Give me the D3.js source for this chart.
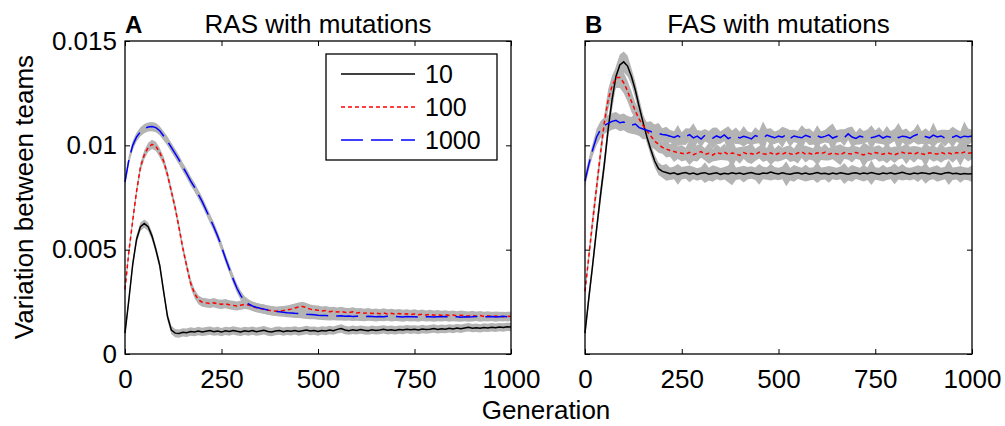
<!DOCTYPE html>
<html>
<head>
<meta charset="utf-8">
<script src="https://cdn.jsdelivr.net/npm/d3@7"></script>
<style>
  body { margin: 0; background: #fff; }
  svg { display: block; font-family: "Liberation Sans", Arial, Helvetica, sans-serif; }
</style>
</head>
<body>
<div id="chart"></div>
<script>
// Variation between teams over generations — RAS vs FAS, with mutations
// values are in units of 1e-3, spreads (grey bands) in units of 1e-4

const GENERATIONS = d3.range(0, 1001, 10);

const SERIES_LABELS = ["10", "100", "1000"];
const X_TICKS = [0, 250, 500, 750, 1000];
const Y_TICKS = [0, 5, 10, 15];
const Y_TICK_LABELS = ["0", "0.005", "0.01", "0.015"];

// ── Panel A: RAS ────────────────────────────────────────────────────────
const RAS_10 = [
  1.00, 2.60, 4.30, 5.50, 6.10, 6.25, 6.10, 5.65, 5.00, 4.25,
  3.00, 1.80, 1.15, 1.00, 0.98, 1.04, 1.02, 1.08, 1.05, 1.10,
  1.06, 1.09, 1.12, 1.07, 1.10, 1.05, 1.11, 1.08, 1.13, 1.09,
  1.06, 1.11, 1.08, 1.12, 1.07, 1.10, 1.14, 1.08, 1.05, 1.10,
  1.12, 1.07, 1.11, 1.09, 1.13, 1.08, 1.11, 1.15, 1.10, 1.12,
  1.08, 1.13, 1.10, 1.15, 1.12, 1.18, 1.22, 1.15, 1.12, 1.16,
  1.13, 1.17, 1.14, 1.12, 1.16, 1.13, 1.15, 1.18, 1.14, 1.16,
  1.13, 1.17, 1.15, 1.19, 1.16, 1.18, 1.15, 1.20, 1.17, 1.19,
  1.22, 1.18, 1.21, 1.19, 1.23, 1.20, 1.24, 1.21, 1.25, 1.28,
  1.24, 1.26, 1.23, 1.27, 1.25, 1.28, 1.26, 1.29, 1.27, 1.30,
  1.29
];
const RAS_100 = [
  3.10, 4.90, 6.40, 7.80, 8.95, 9.55, 9.90, 10.05, 9.95, 9.65,
  9.25, 8.60, 7.80, 7.00, 6.05, 5.05, 4.20, 3.40, 2.90, 2.60,
  2.48, 2.45, 2.42, 2.46, 2.40, 2.38, 2.41, 2.36, 2.33, 2.30,
  2.34, 2.38, 2.35, 2.28, 2.22, 2.18, 2.15, 2.10, 2.08, 2.05,
  2.07, 2.08, 2.11, 2.15, 2.20, 2.25, 2.28, 2.22, 2.15, 2.12,
  2.10, 2.06, 2.08, 2.03, 2.05, 2.01, 2.04, 2.00, 1.98, 2.02,
  1.97, 1.99, 1.95, 1.98, 1.94, 1.96, 1.93, 1.97, 1.92, 1.95,
  1.91, 1.94, 1.90, 1.93, 1.89, 1.92, 1.88, 1.91, 1.87, 1.90,
  1.86, 1.89, 1.85, 1.88, 1.84, 1.87, 1.83, 1.86, 1.84, 1.82,
  1.85, 1.81, 1.84, 1.80, 1.83, 1.79, 1.82, 1.80, 1.78, 1.81,
  1.80
];
const RAS_1000 = [
  8.25, 9.30, 10.00, 10.40, 10.65, 10.80, 10.88, 10.90, 10.85, 10.70,
  10.45, 10.20, 9.90, 9.60, 9.30, 8.95, 8.64, 8.30, 8.00, 7.65,
  7.30, 6.90, 6.50, 6.10, 5.65, 5.15, 4.60, 4.10, 3.60, 3.15,
  2.80, 2.55, 2.40, 2.30, 2.24, 2.19, 2.15, 2.11, 2.07, 2.04,
  2.02, 2.00, 1.98, 1.97, 1.95, 1.94, 1.92, 1.90, 1.89, 1.88,
  1.86, 1.85, 1.84, 1.83, 1.84, 1.82, 1.83, 1.81, 1.82, 1.80,
  1.81, 1.80, 1.79, 1.81, 1.80, 1.78, 1.80, 1.79, 1.81, 1.78,
  1.80, 1.79, 1.77, 1.80, 1.78, 1.79, 1.77, 1.80, 1.78, 1.79,
  1.77, 1.79, 1.78, 1.80, 1.77, 1.79, 1.78, 1.76, 1.79, 1.77,
  1.78, 1.80, 1.77, 1.79, 1.78, 1.80, 1.77, 1.79, 1.81, 1.78,
  1.80
];
const RAS_SPREAD = [2.0, 2.2, 2.2];

// ── Panel B: FAS ────────────────────────────────────────────────────────
const FAS_10 = [
  1.00, 2.70, 4.30, 6.00, 7.60, 9.10, 10.80, 12.20, 13.30, 13.85,
  14.00, 13.80, 13.30, 12.65, 11.85, 11.10, 10.40, 9.80, 9.25, 8.88,
  8.75, 8.70, 8.64, 8.68, 8.61, 8.66, 8.70, 8.63, 8.67, 8.60,
  8.66, 8.69, 8.62, 8.65, 8.68, 8.61, 8.66, 8.63, 8.69, 8.64,
  8.67, 8.62, 8.66, 8.70, 8.64, 8.61, 8.67, 8.65, 8.72, 8.66,
  8.63, 8.68, 8.64, 8.61, 8.66, 8.69, 8.63, 8.67, 8.62, 8.65,
  8.70, 8.64, 8.66, 8.61, 8.67, 8.63, 8.68, 8.65, 8.62, 8.66,
  8.69, 8.63, 8.67, 8.64, 8.70, 8.65, 8.62, 8.67, 8.64, 8.68,
  8.63, 8.66, 8.71, 8.65, 8.62, 8.67, 8.64, 8.69, 8.66, 8.63,
  8.68, 8.65, 8.62, 8.67, 8.70, 8.64, 8.66, 8.61, 8.65, 8.63,
  8.64
];
const FAS_100 = [
  3.00, 4.70, 6.40, 8.00, 9.60, 11.10, 12.20, 12.85, 13.25, 13.25,
  13.00, 12.60, 12.10, 11.65, 11.25, 10.95, 10.70, 10.45, 10.20, 10.05,
  9.90, 9.82, 9.75, 9.70, 9.65, 9.62, 9.58, 9.66, 9.55, 9.63,
  9.70, 9.57, 9.62, 9.53, 9.66, 9.60, 9.68, 9.56, 9.63, 9.59,
  9.52, 9.65, 9.58, 9.61, 9.55, 9.67, 9.60, 9.57, 9.64, 9.54,
  9.62, 9.58, 9.66, 9.60, 9.55, 9.63, 9.69, 9.58, 9.62, 9.56,
  9.64, 9.60, 9.67, 9.57, 9.63, 9.59, 9.55, 9.65, 9.61, 9.58,
  9.66, 9.60, 9.54, 9.63, 9.59, 9.66, 9.61, 9.57, 9.64, 9.60,
  9.55, 9.62, 9.67, 9.59, 9.63, 9.57, 9.65, 9.60, 9.56, 9.64,
  9.61, 9.58, 9.66, 9.60, 9.63, 9.57, 9.65, 9.61, 9.68, 9.62,
  9.64
];
const FAS_1000 = [
  8.30, 9.10, 9.80, 10.40, 10.75, 10.95, 11.05, 11.15, 11.20, 11.08,
  11.12, 11.00, 10.96, 11.02, 10.85, 10.78, 10.72, 10.66, 10.60, 10.57,
  10.52, 10.49, 10.44, 10.38, 10.47, 10.33, 10.42, 10.51, 10.36, 10.44,
  10.30, 10.48, 10.39, 10.34, 10.45, 10.37, 10.50, 10.32, 10.41, 10.46,
  10.35, 10.43, 10.38, 10.31, 10.47, 10.40, 10.34, 10.49, 10.42, 10.36,
  10.44, 10.39, 10.52, 10.33, 10.45, 10.40, 10.36, 10.48, 10.41, 10.34,
  10.46, 10.38, 10.43, 10.50, 10.35, 10.42, 10.47, 10.37, 10.55, 10.40,
  10.33, 10.44, 10.39, 10.46, 10.36, 10.41, 10.48, 10.35, 10.43, 10.39,
  10.50, 10.37, 10.44, 10.41, 10.34, 10.46, 10.53, 10.38, 10.42, 10.36,
  10.49, 10.40, 10.45, 10.35, 10.43, 10.39, 10.47, 10.37, 10.44, 10.41,
  10.45
];
const FAS_SPREAD_10 = [
  2,3,3,3,4,4,4,5,5,5, 5,5,4,4,4,4,3,3,3,3, 3,4,3,3,5,3,3,4,3,3,
  3,5,3,4,3,3,3,4,6,3, 3,4,3,3,3,5,3,3,4,3, 3,3,6,3,4,3,3,4,3,3,
  5,3,3,4,3,3,3,5,3,4, 3,3,4,3,6,3,3,4,3,3, 5,3,4,3,3,3,4,3,5,3,
  3,4,3,3,6,3,3,4,3,3, 4
];
const FAS_SPREAD_100 = [
  2,3,4,4,4,4,5,5,5,5, 5,5,5,4,4,5,4,5,4,4, 3,4,3,5,3,4,3,6,3,4,
  3,3,5,3,4,3,4,3,7,3, 4,3,4,5,3,3,4,3,6,3, 4,3,3,4,3,5,3,4,3,3,
  6,3,4,3,3,4,5,3,3,4, 3,3,6,4,3,3,4,3,5,3, 4,3,3,5,3,4,3,3,6,3,
  4,3,5,3,3,4,3,6,3,4, 3
];
const FAS_SPREAD_1000 = [
  3,3,3,4,4,4,4,4,4,4, 4,4,4,5,4,5,4,5,4,5, 3,4,3,3,5,3,4,3,7,3,
  4,3,3,5,4,3,3,6,3,4, 3,5,3,3,4,3,8,3,4,3, 3,5,3,4,3,3,6,3,4,3,
  5,3,3,4,7,3,3,4,3,5, 3,4,3,3,6,3,4,3,5,3, 3,7,3,4,3,3,5,3,4,3,
  6,3,3,4,3,5,3,3,7,4, 3
];

// ── Styles ──────────────────────────────────────────────────────────────
const LINE_STYLES = [
  { color: "#000000", dash: null },
  { color: "#ff0000", dash: "4,3" },
  { color: "#0000ff", dash: "22,8" }
];
const BAND_COLOR = "#b4b4b4";
const FONT_SIZE = 26;

const W = 1005, H = 426;
const TOP = 41, BOTTOM = 354;

const svg = d3.select("#chart").append("svg")
    .attr("width", W)
    .attr("height", H);

const y = d3.scaleLinear().domain([0, 15]).range([BOTTOM, TOP]);

function drawPanel(opts) {
    const x = d3.scaleLinear().domain([0, 1000]).range([opts.left, opts.right]);
    const g = svg.append("g");

    const spreadAt = (s, i) => (Array.isArray(s) ? s[i] : s) / 10;

    // grey bands first, lines on top
    opts.series.forEach(s => {
        const area = d3.area()
            .x((d, i) => x(GENERATIONS[i]))
            .y0((d, i) => y(d - spreadAt(s.spread, i)))
            .y1((d, i) => y(d + spreadAt(s.spread, i)));
        g.append("path")
            .datum(s.values)
            .attr("d", area)
            .attr("fill", BAND_COLOR);
    });

    const line = d3.line()
        .x((d, i) => x(GENERATIONS[i]))
        .y(d => y(d));

    opts.series.forEach((s, k) => {
        g.append("path")
            .datum(s.values)
            .attr("d", line)
            .attr("fill", "none")
            .attr("stroke", LINE_STYLES[k].color)
            .attr("stroke-width", 1.5)
            .attr("stroke-dasharray", LINE_STYLES[k].dash);
    });

    // Axes (ticks point inward on all four sides)
    g.append("g")
        .attr("transform", `translate(0,${BOTTOM})`)
        .call(d3.axisBottom(x).tickValues(X_TICKS).tickSize(-5).tickPadding(16)
            .tickFormat(d3.format("d")));
    g.append("g")
        .attr("transform", `translate(0,${TOP})`)
        .call(d3.axisTop(x).tickValues(X_TICKS).tickSize(-5).tickFormat(""));
    g.append("g")
        .attr("transform", `translate(${opts.left},0)`)
        .call(d3.axisLeft(y).tickValues(Y_TICKS).tickSize(-5).tickPadding(8)
            .tickFormat((d, i) => opts.yLabels ? Y_TICK_LABELS[i] : ""));
    g.append("g")
        .attr("transform", `translate(${opts.right},0)`)
        .call(d3.axisRight(y).tickValues(Y_TICKS).tickSize(-5).tickFormat(""));

    g.selectAll(".domain").remove();
    g.selectAll(".tick line").attr("stroke", "#000").attr("stroke-width", 1);
    g.selectAll(".tick text")
        .style("font-size", FONT_SIZE + "px")
        .style("font-family", "'Liberation Sans', Arial, Helvetica, sans-serif")
        .attr("fill", "#000");

    g.append("rect")
        .attr("x", opts.left)
        .attr("y", TOP)
        .attr("width", opts.right - opts.left)
        .attr("height", BOTTOM - TOP)
        .attr("fill", "none")
        .attr("stroke", "#000")
        .attr("stroke-width", 1.3);

    // Titles
    g.append("text")
        .attr("x", opts.left)
        .attr("y", 33)
        .style("font-size", "24px")
        .style("font-weight", "700")
        .text(opts.letter);
    g.append("text")
        .attr("x", (opts.left + opts.right) / 2)
        .attr("y", 33)
        .attr("text-anchor", "middle")
        .style("font-size", FONT_SIZE + "px")
        .text(opts.title);

    return x;
}

drawPanel({
    left: 125, right: 511, letter: "A", title: "RAS with mutations", yLabels: true,
    series: [
        { values: RAS_10,   spread: RAS_SPREAD[0] },
        { values: RAS_100,  spread: RAS_SPREAD[1] },
        { values: RAS_1000, spread: RAS_SPREAD[2] }
    ]
});

drawPanel({
    left: 585, right: 972, letter: "B", title: "FAS with mutations", yLabels: false,
    series: [
        { values: FAS_10,   spread: FAS_SPREAD_10 },
        { values: FAS_100,  spread: FAS_SPREAD_100 },
        { values: FAS_1000, spread: FAS_SPREAD_1000 }
    ]
});

// ── Legend (panel A) ────────────────────────────────────────────────────
const legend = svg.append("g");
legend.append("rect")
    .attr("x", 326).attr("y", 54)
    .attr("width", 171).attr("height", 106)
    .attr("fill", "#fff")
    .attr("stroke", "#000")
    .attr("stroke-width", 1.3);

const rowY = [74, 107, 140];
SERIES_LABELS.forEach((label, k) => {
    legend.append("line")
        .attr("x1", 341).attr("x2", 415)
        .attr("y1", rowY[k]).attr("y2", rowY[k])
        .attr("stroke", LINE_STYLES[k].color)
        .attr("stroke-width", 1.5)
        .attr("stroke-dasharray", LINE_STYLES[k].dash);
    legend.append("text")
        .attr("x", 425)
        .attr("y", rowY[k])
        .attr("dy", "0.36em")
        .style("font-size", "25px")
        .text(label);
});

// ── Axis labels ─────────────────────────────────────────────────────────
svg.append("text")
    .attr("x", 546)
    .attr("y", 419)
    .attr("text-anchor", "middle")
    .style("font-size", FONT_SIZE + "px")
    .text("Generation");

svg.append("text")
    .attr("transform", "translate(33,197) rotate(-90)")
    .attr("text-anchor", "middle")
    .style("font-size", FONT_SIZE + "px")
    .text("Variation between teams");
</script>
</body>
</html>
